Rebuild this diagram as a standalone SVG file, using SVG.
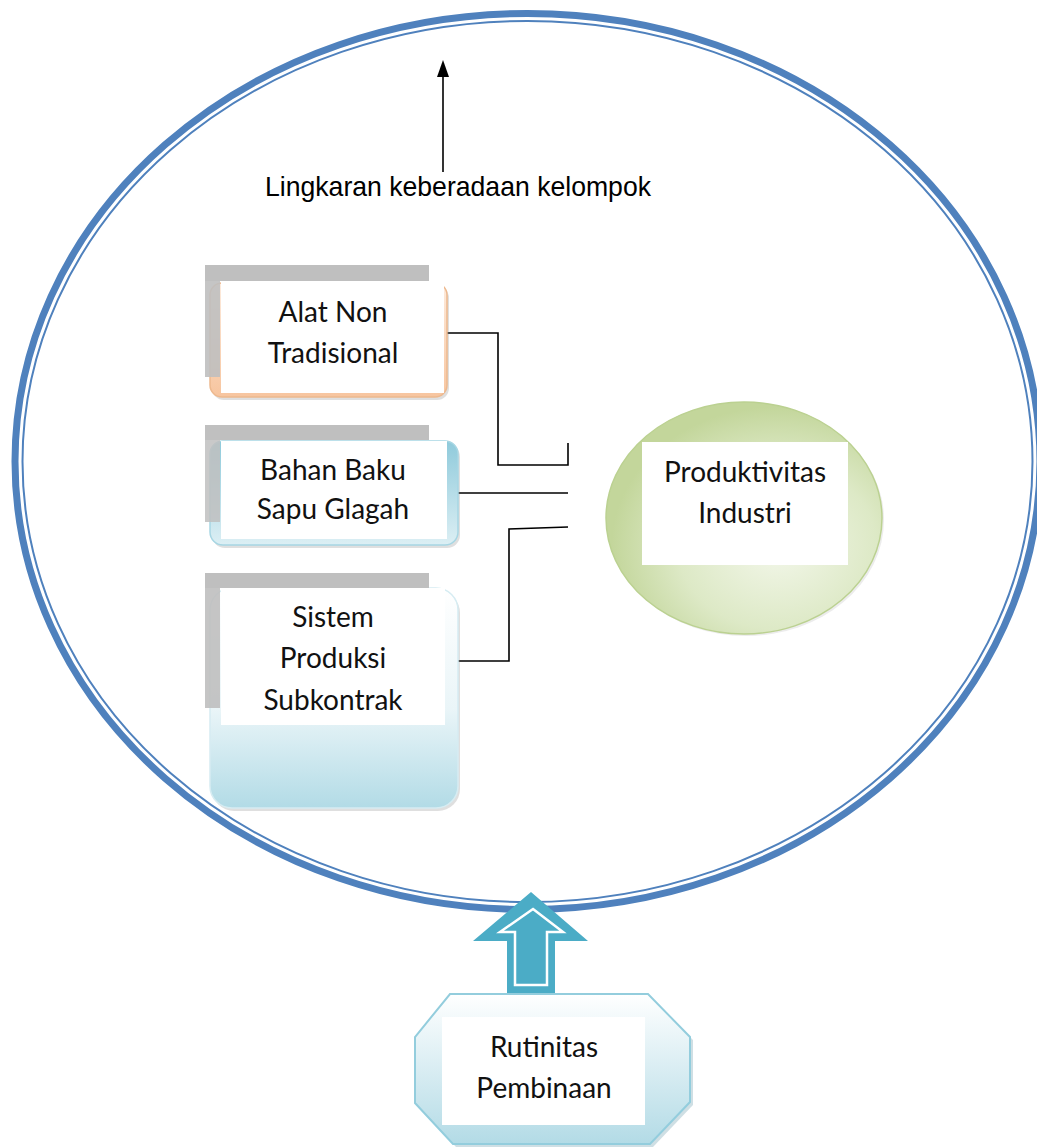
<svg xmlns="http://www.w3.org/2000/svg" width="1037" height="1147" viewBox="0 0 1037 1147">
<defs>
<linearGradient id="gPeach" x1="0" y1="0" x2="0" y2="1"><stop offset="0" stop-color="#FDEBDD"/><stop offset="1" stop-color="#F7C59F"/></linearGradient>
<linearGradient id="gBlue2" x1="0" y1="0" x2="0" y2="1"><stop offset="0" stop-color="#8FCADB"/><stop offset="1" stop-color="#DCEFF4"/></linearGradient>
<linearGradient id="gBlue3" x1="0" y1="0" x2="0" y2="1"><stop offset="0" stop-color="#FFFFFF"/><stop offset="0.55" stop-color="#EAF5F8"/><stop offset="1" stop-color="#B2DBE6"/></linearGradient>
<linearGradient id="gOct" x1="0" y1="0" x2="0" y2="1"><stop offset="0" stop-color="#FFFFFF"/><stop offset="1" stop-color="#B3DBE6"/></linearGradient>
<radialGradient id="gGreen" cx="0.62" cy="0.62" r="0.6"><stop offset="0" stop-color="#F3F7EA"/><stop offset="0.6" stop-color="#DDE9C6"/><stop offset="1" stop-color="#C3D69B"/></radialGradient>
</defs>
<style>
.lbl{font-family:Lato,"Open Sans","Liberation Sans",sans-serif;font-size:28px;fill:#111;text-anchor:middle}
.ttl{font-family:"Liberation Sans Narrow","Liberation Sans",sans-serif;font-size:28px;fill:#000}
.gray{fill:#BFBFBF}
.white{fill:#FFFFFF}
.conn{fill:none;stroke:#000;stroke-width:1.6}
.shadow{fill:#7F7F7F;opacity:0.25}
</style>
<rect width="1037" height="1147" fill="#FFFFFF"/>
<g id="outer-circle">
<ellipse cx="527.5" cy="461.5" rx="512.5" ry="448" fill="none" stroke="#4F81BD" stroke-width="7"/>
<ellipse cx="527.5" cy="461.5" rx="505" ry="440.5" fill="none" stroke="#4F81BD" stroke-width="2"/>
</g>
<g id="title">
<line x1="443" y1="172" x2="443" y2="74" stroke="#000" stroke-width="1.6"/>
<polygon points="443,60 437,77 449,77" fill="#000"/>
<text class="ttl" x="265" y="196" textLength="386" lengthAdjust="spacingAndGlyphs">Lingkaran keberadaan kelompok</text>
</g>
<g id="connectors">
<polyline class="conn" points="445,333 498,333 498,465 568,465 568,443"/>
<polyline class="conn" points="455,493 568,493"/>
<polyline class="conn" points="457,661 509,661 509,529 568,527"/>
</g>
<g id="node-alat">
<rect class="shadow" x="212" y="286" width="237" height="114" rx="12"/>
<rect x="210" y="283" width="237" height="114" rx="12" fill="url(#gPeach)" stroke="#EDB98F" stroke-width="1.5"/>
<rect class="gray" x="205" y="265" width="224" height="16"/>
<rect class="gray" x="205" y="265" width="15" height="112" opacity="0.9"/>
<rect class="white" x="221" y="282" width="223" height="111"/>
<text class="lbl" x="333" y="322">Alat Non</text>
<text class="lbl" x="333" y="363">Tradisional</text>
</g>
<g id="node-bahan">
<rect class="shadow" x="212" y="444" width="248" height="104" rx="13"/>
<rect x="210" y="441" width="248" height="104" rx="13" fill="url(#gBlue2)" stroke="#A7D6E3" stroke-width="1.5"/>
<rect class="gray" x="205" y="425" width="224" height="15"/>
<rect class="gray" x="205" y="425" width="15" height="97" opacity="0.85"/>
<rect class="white" x="221" y="441" width="226" height="98"/>
<text class="lbl" x="333" y="480">Bahan Baku</text>
<text class="lbl" x="333" y="519">Sapu Glagah</text>
</g>
<g id="node-sistem">
<rect class="shadow" x="212" y="591" width="248" height="220" rx="22"/>
<rect x="210" y="588" width="248" height="220" rx="22" fill="url(#gBlue3)" stroke="#D6ECF2" stroke-width="1.5"/>
<rect class="gray" x="205" y="573" width="224" height="15"/>
<rect class="gray" x="205" y="573" width="15" height="135" opacity="0.9"/>
<rect class="white" x="221" y="588" width="224" height="137"/>
<text class="lbl" x="333" y="627">Sistem</text>
<text class="lbl" x="333" y="668">Produksi</text>
<text class="lbl" x="333" y="710">Subkontrak</text>
</g>
<g id="node-produktivitas">
<ellipse cx="746" cy="520" rx="138" ry="116" fill="#BFBFBF" opacity="0.3"/>
<ellipse cx="744" cy="518" rx="138" ry="116" fill="url(#gGreen)" stroke="#BBD191" stroke-width="1.5"/>
<rect class="white" x="642" y="442" width="206" height="123"/>
<text class="lbl" x="745" y="482">Produktivitas</text>
<text class="lbl" x="745" y="523">Industri</text>
</g>
<g id="block-arrow">
<polygon points="531,892 588,941 555,941 555,995 507,995 507,941 473,941" fill="#4BACC6"/>
<polygon points="533,909 563,932 547,932 547,985 515,985 515,932 500,932" fill="#4BACC6" stroke="#FFFFFF" stroke-width="2.5" stroke-linejoin="miter"/>
</g>
<g id="node-rutinitas">
<polygon points="453,997 651,997 693,1040 693,1105 653,1147 456,1147 418,1106 418,1040" fill="#9FBFC9" opacity="0.5"/>
<polygon points="450,994 648,994 690,1037 690,1102 650,1144 453,1144 415,1103 415,1037" fill="url(#gOct)" stroke="#93CDDD" stroke-width="2"/>
<rect class="white" x="442" y="1017" width="203" height="108"/>
<text class="lbl" x="544" y="1057">Rutinitas</text>
<text class="lbl" x="544" y="1098">Pembinaan</text>
</g>
</svg>
